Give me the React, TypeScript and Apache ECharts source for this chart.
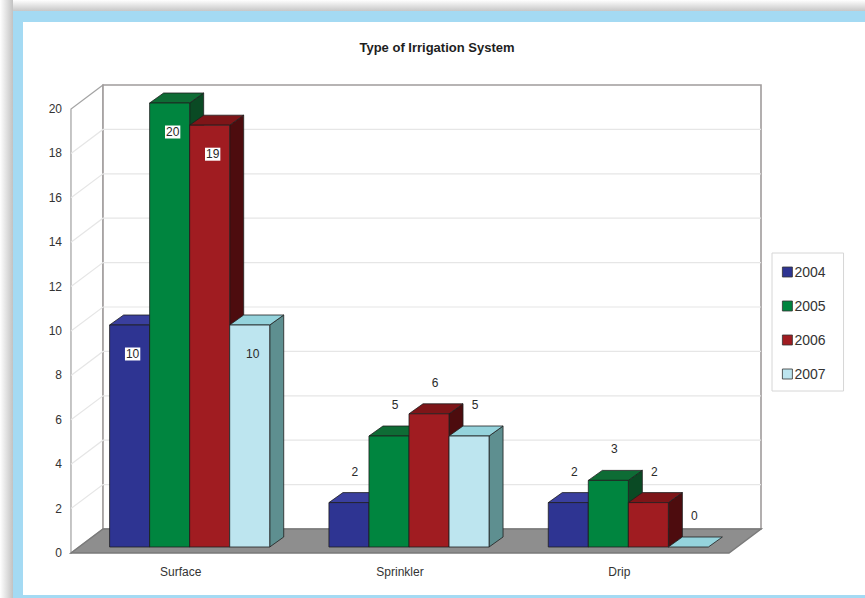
import { useEffect, useRef } from 'react';
import * as echarts from 'echarts';

// ---- data ----
const categories = ['Surface', 'Sprinkler', 'Drip'];
const years = ['2004', '2005', '2006', '2007'];
const values2004 = [10, 2, 2];
const values2005 = [20, 5, 3];
const values2006 = [19, 6, 2];
const values2007 = [10, 5, 0];
const yTicks = [0, 2, 4, 6, 8, 10, 12, 14, 16, 18, 20];
const seriesValues = [values2004, values2005, values2006, values2007];

// ---- styling ----
const FONT = '"Liberation Sans", Arial, sans-serif';
const shades = [
  { front: '#2e3492', top: '#3a3f9e', side: '#1c2063', darkLabel: true },
  { front: '#00853f', top: '#0e6c35', side: '#0a4a24', darkLabel: true },
  { front: '#a01c21', top: '#7e1518', side: '#4d0c0e', darkLabel: true },
  { front: '#bde5ef', top: '#95d3dc', side: '#5e8f90', darkLabel: false },
];
const EDGE = '#1e1e1e';
const WALL_DX = 32;
const WALL_DY = -24;
const BAR_DX = 9;
const BAR_DY = -6;
const DEPTH_DX = 14;
const DEPTH_DY = -10;
const GROUP_RATIO = 0.73;
const INSIDE_MIN = 10;

function renderScene(params: any, api: any) {
  const cs = params.coordSys;
  const L = cs.x;
  const T = cs.y;
  const R = cs.x + cs.width;
  const B = cs.y + cs.height;
  const children: any[] = [];
  children.push({
    type: 'polygon',
    shape: { points: [[L, B], [L, T], [L + WALL_DX, T + WALL_DY], [L + WALL_DX, B + WALL_DY]] },
    style: { fill: '#ffffff', stroke: '#a3a3a3', lineWidth: 1.2 },
  });
  children.push({
    type: 'rect',
    shape: { x: L + WALL_DX, y: T + WALL_DY, width: R - L, height: B - T },
    style: { fill: '#ffffff', stroke: '#a09c9c', lineWidth: 1.6 },
  });
  yTicks.forEach((v) => {
    if (v === yTicks[0] || v === yTicks[yTicks.length - 1]) return;
    const y = api.coord([0, v])[1];
    children.push({
      type: 'polyline',
      shape: { points: [[L, y], [L + WALL_DX, y + WALL_DY], [R + WALL_DX, y + WALL_DY]] },
      style: { fill: 'none', stroke: '#e6e6e6', lineWidth: 1.2 },
    });
  });
  children.push({
    type: 'polygon',
    shape: { points: [[L, B], [L + WALL_DX, B + WALL_DY], [R + WALL_DX, B + WALL_DY], [R, B]] },
    style: { fill: '#8e8e8e', stroke: '#7a7a7a', lineWidth: 1.5 },
  });
  return { type: 'group', children };
}

const renderBar = (s: number) => (params: any, api: any) => {
  const ci = api.value(0);
  const v = api.value(1);
  const topPt = api.coord([ci, v]);
  const basePt = api.coord([ci, 0]);
  const band = api.size([1, 0])[0];
  const bw = (band * GROUP_RATIO) / years.length;
  const x0 = topPt[0] - (band * GROUP_RATIO) / 2 + s * bw + BAR_DX;
  const x1 = x0 + bw;
  const yt = topPt[1] + BAR_DY;
  const yb = basePt[1] + BAR_DY;
  const c = shades[s];
  const edge = { stroke: EDGE, lineWidth: 0.8 };
  const children: any[] = [];
  if (v > 0) {
    children.push({
      type: 'polygon',
      shape: { points: [[x1, yb], [x1 + DEPTH_DX, yb + DEPTH_DY], [x1 + DEPTH_DX, yt + DEPTH_DY], [x1, yt]] },
      style: { fill: c.side, ...edge },
    });
  }
  children.push({
    type: 'polygon',
    shape: { points: [[x0, yt], [x0 + DEPTH_DX, yt + DEPTH_DY], [x1 + DEPTH_DX, yt + DEPTH_DY], [x1, yt]] },
    style: { fill: c.top, ...edge },
  });
  if (v > 0) {
    children.push({
      type: 'rect',
      shape: { x: x0, y: yt, width: bw, height: yb - yt },
      style: { fill: c.front, ...edge },
    });
  }
  const inside = v >= INSIDE_MIN;
  const labelStyle: any = {
    text: String(v),
    x: x0 + bw / 2 + (inside ? 3 : 6),
    y: inside ? yt + 29 : yt - 31,
    fill: '#2a2a2a',
    font: `12px ${FONT}`,
    align: 'center',
    verticalAlign: 'middle',
  };
  if (inside && c.darkLabel) {
    labelStyle.backgroundColor = '#ffffff';
    labelStyle.padding = [1, 1, 0, 1];
  }
  children.push({ type: 'text', style: labelStyle });
  return { type: 'group', children };
};

export default function App() {
  const ref = useRef<HTMLDivElement>(null);

  useEffect(() => {
    if (!ref.current) return;
    const chart = echarts.init(ref.current, undefined, { renderer: 'svg' });
    const option: any = {
      animation: false,
      backgroundColor: '#ffffff',
      graphic: [
        {
          type: 'rect',
          z: -10,
          shape: { x: 0, y: 0, width: 865, height: 12 },
          style: {
            fill: new echarts.graphic.LinearGradient(0, 0, 0, 1, [
              { offset: 0, color: '#ffffff' },
              { offset: 1, color: '#c2c2c2' },
            ]),
          },
        },
        {
          type: 'rect',
          z: -10,
          shape: { x: 0, y: 0, width: 13, height: 598 },
          style: {
            fill: new echarts.graphic.LinearGradient(0, 0, 1, 0, [
              { offset: 0, color: '#ffffff' },
              { offset: 1, color: '#c2c2c2' },
            ]),
          },
        },
        {
          type: 'rect',
          z: -9,
          shape: { x: 13, y: 11, width: 852, height: 587 },
          style: { fill: '#a4daf3' },
        },
        {
          type: 'rect',
          z: -8,
          shape: { x: 23, y: 22, width: 842, height: 573 },
          style: { fill: '#ffffff' },
        },
        {
          type: 'text',
          z: 10,
          x: 437,
          y: 47,
          style: {
            text: 'Type of Irrigation System',
            font: `bold 13px ${FONT}`,
            fill: '#1e1e1e',
            align: 'center',
            verticalAlign: 'middle',
          },
        },
      ],
      legend: {
        orient: 'vertical',
        left: 772,
        top: 253,
        padding: [12, 18, 10, 10],
        itemGap: 20,
        itemWidth: 10,
        itemHeight: 10,
        icon: 'rect',
        borderColor: '#d6d6d6',
        borderWidth: 1,
        itemStyle: { borderColor: '#333333', borderWidth: 0.8 },
        textStyle: { fontSize: 14, color: '#333333', fontFamily: FONT, padding: [0, 0, 0, -3] },
        data: years,
      },
      grid: { left: 71, top: 109, width: 658, height: 444, containLabel: false },
      xAxis: {
        type: 'category',
        data: categories,
        axisLine: { show: false },
        axisTick: { show: false },
        axisLabel: { margin: 13, fontSize: 12, color: '#333333', fontFamily: FONT },
        splitLine: { show: false },
      },
      yAxis: {
        type: 'value',
        min: yTicks[0],
        max: yTicks[yTicks.length - 1],
        interval: yTicks[1] - yTicks[0],
        axisLine: { show: true, lineStyle: { color: '#9a9a9a', width: 1.2 } },
        axisTick: { show: false },
        axisLabel: { margin: 9, fontSize: 12, color: '#333333', fontFamily: FONT },
        splitLine: { show: false },
      },
      series: [
        {
          type: 'custom',
          name: 'scene',
          z: 1,
          clip: false,
          silent: true,
          renderItem: renderScene,
          data: [[0, 0]],
          encode: { x: 0, y: 1 },
        },
        ...years.map((year, s) => ({
          type: 'custom',
          name: year,
          z: 3 + s,
          clip: false,
          itemStyle: { color: shades[s].front },
          renderItem: renderBar(s),
          data: seriesValues[s].map((v, i) => [i, v]),
          encode: { x: 0, y: 1 },
        })),
      ],
    };
    chart.setOption(option);
    return () => chart.dispose();
  }, []);

  return (
    <div
      ref={ref}
      style={{ position: 'fixed', left: 0, top: 0, width: 865, height: 598 }}
    />
  );
}
